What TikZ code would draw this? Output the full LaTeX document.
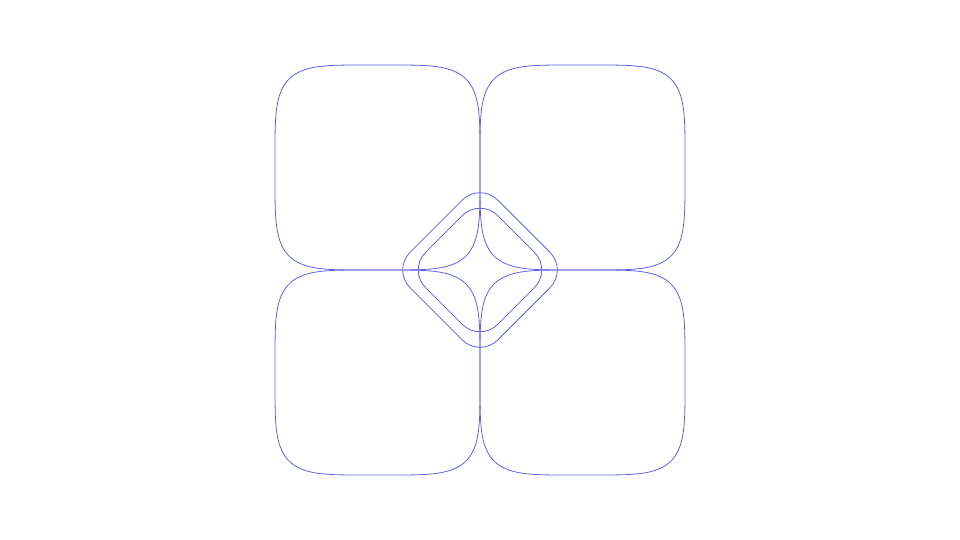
\documentclass[tikz,border=0pt]{standalone}
\definecolor{lineblue}{RGB}{95,95,238}
\tikzset{
  declare function={sq(\t)=sign(\t)*max(abs(\t),0.00001)^0.4255;},
  curve/.style={draw=lineblue, line width=0.8pt, line join=round},
  diamondbox/.style={curve, rectangle, rounded corners=25pt, rotate=45, inner sep=0pt, outer sep=0pt},
}
\newcommand{\squircle}[2]{%
  \draw[curve] plot[domain=0.25:360.25, samples=721, variable=\t]
    ({#1+102.5*sq(cos(\t))},{#2+102.5*sq(sin(\t))}) -- cycle;}
\begin{document}
\begin{tikzpicture}[x=1pt,y=-1pt]
  \useasboundingbox (0,0) rectangle (960,540);
  \coordinate (c) at (480,270);
  \coordinate (tl) at (377.5,167.5);
  \coordinate (tr) at (582.5,167.5);
  \coordinate (bl) at (377.5,372.5);
  \coordinate (br) at (582.5,372.5);
  \squircle{377.5}{167.5}
  \squircle{582.5}{167.5}
  \squircle{377.5}{372.5}
  \squircle{582.5}{372.5}
  \node[diamondbox, minimum size=124pt] (outer) at (c) {};
  \node[diamondbox, minimum size=102pt] (inner) at (c) {};
\end{tikzpicture}
\end{document}
